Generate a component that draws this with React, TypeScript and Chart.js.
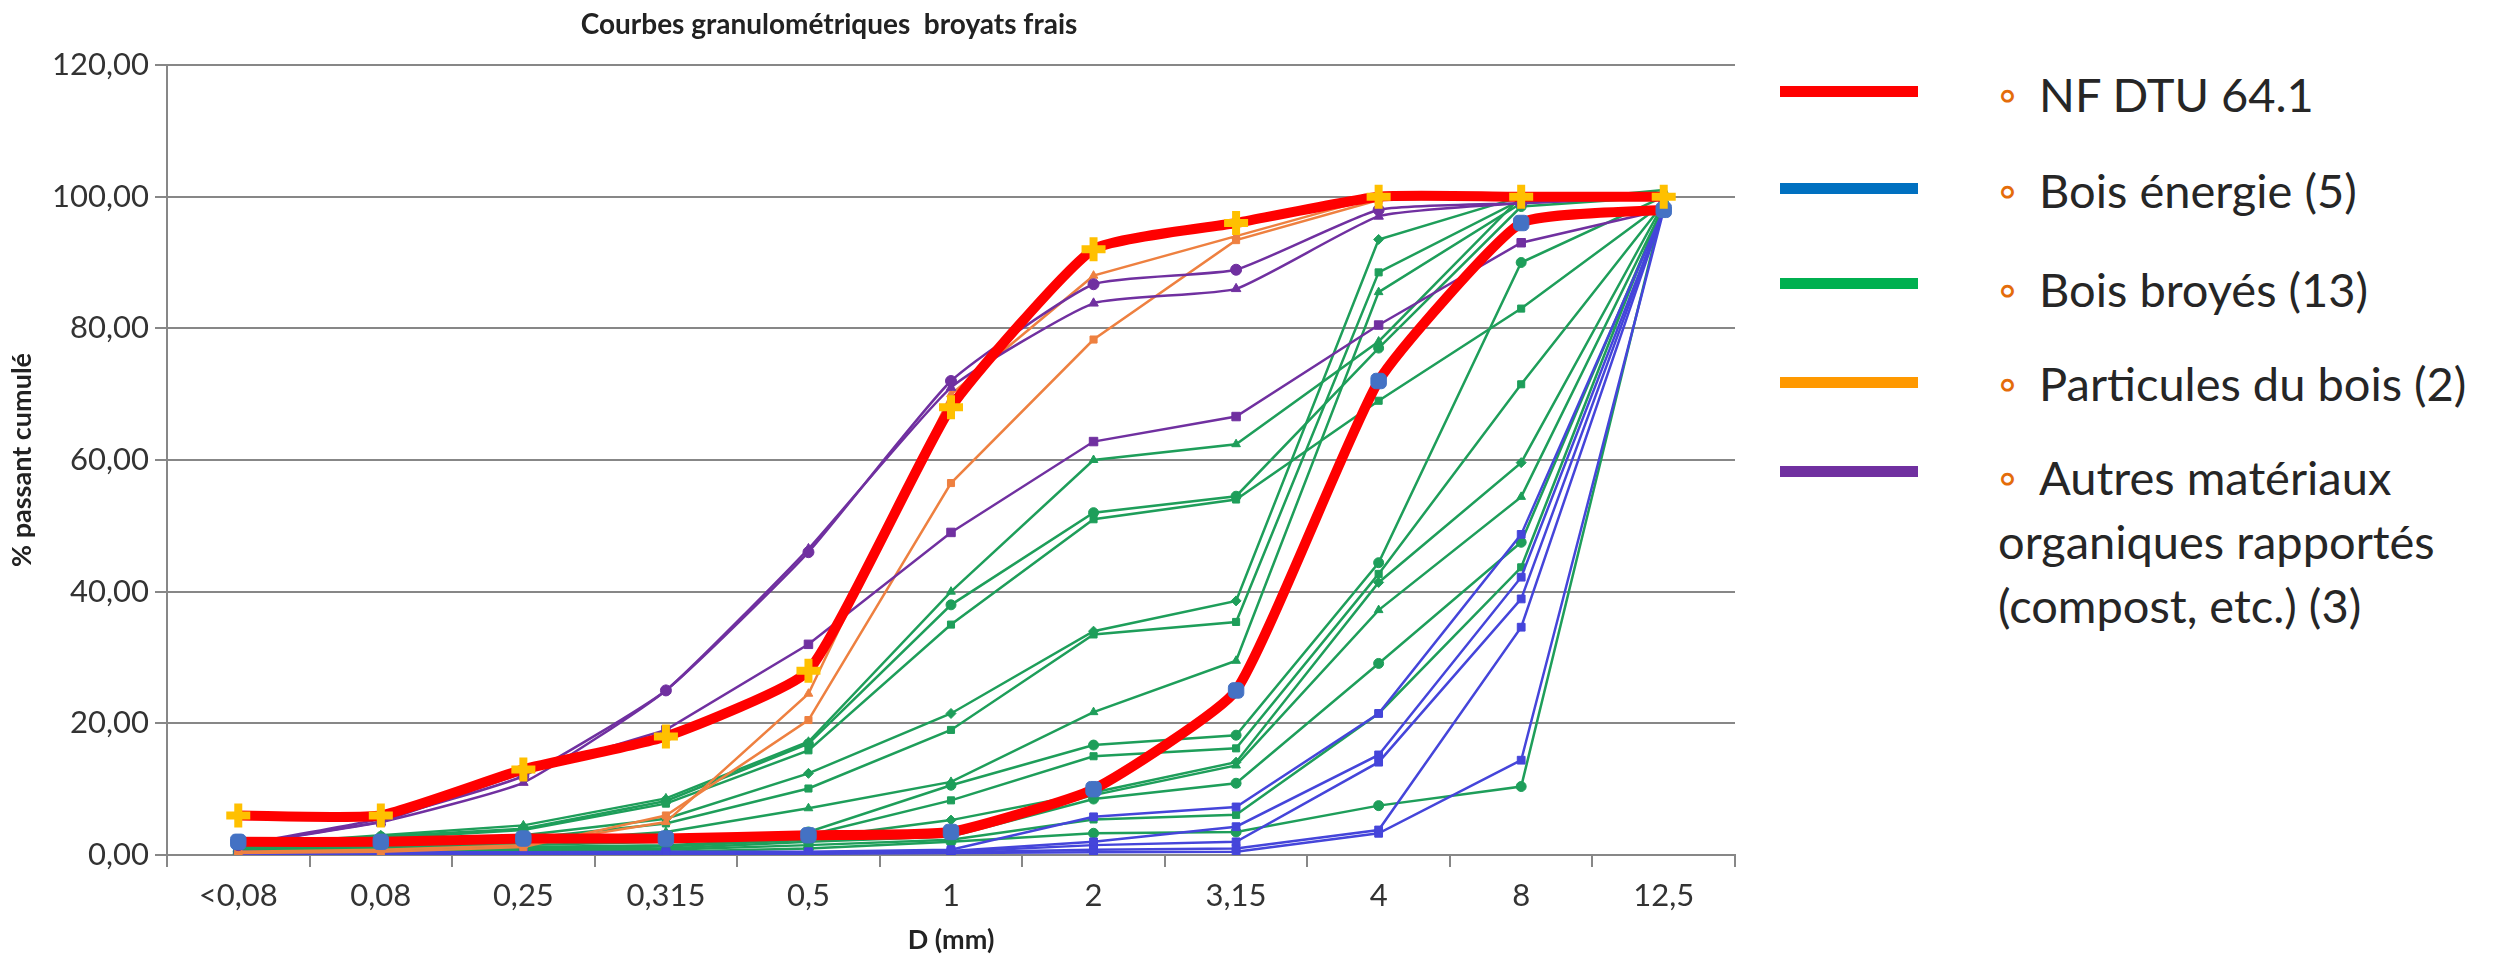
import React, { useEffect, useRef } from 'react';
import { Chart, registerables } from 'chart.js';

Chart.register(...registerables);

const categories = ['<0,08', '0,08', '0,25', '0,315', '0,5', '1', '2', '3,15', '4', '8', '12,5'];
const yTicks = [0, 20, 40, 60, 80, 100, 120];

// NF DTU 64.1 envelope
const nfUpper = [6, 6, 13, 18, 28, 68, 92, 96, 100, 100, 100];
const nfLower = [2, 2, 2.5, 2.5, 3, 3.5, 10, 25, 72, 96, 98];

// Bois énergie (5)
const energie1 = [0.5, 0.4, 0.4, 0.5, 0.5, 0.8, 5.8, 7.3, 21.5, 48.7, 98];
const energie2 = [0.4, 0.3, 0.3, 0.4, 0.4, 0.6, 2.0, 4.3, 15.2, 42.2, 98];
const energie3 = [0.3, 0.3, 0.3, 0.3, 0.3, 0.5, 1.5, 2.0, 14.1, 38.9, 98];
const energie4 = [0.2, 0.2, 0.2, 0.2, 0.3, 0.4, 0.8, 1.0, 3.8, 34.6, 98];
const energie5 = [0.1, 0.1, 0.1, 0.1, 0.2, 0.3, 0.4, 0.5, 3.3, 14.4, 98];

// Bois broyés (13)
const broyes1 = [1.5, 3, 4.5, 8.6, 17.2, 40, 60, 62.4, 78, 100, 100];
const broyes2 = [1.2, 2.8, 4, 8.2, 16.9, 38, 52, 54.5, 77, 98.5, 100];
const broyes3 = [1, 2.5, 3.8, 7.8, 15.9, 35, 51, 54, 69, 83, 99];
const broyes4 = [1, 2.2, 3, 5.5, 12.4, 21.5, 34, 38.6, 93.5, 100, 100];
const broyes5 = [0.8, 2, 2.5, 4.8, 10.1, 19, 33.5, 35.4, 88.5, 99.5, 100];
const broyes6 = [0.8, 1.8, 2, 3.5, 7.1, 11.1, 21.7, 29.5, 85.5, 99, 101];
const broyes7 = [0.6, 1.5, 1.8, 2.5, 3.5, 10.6, 16.7, 18.2, 44.4, 90, 100];
const broyes8 = [0.5, 1.2, 1.5, 2, 3, 8.3, 15, 16.2, 42.7, 71.5, 99];
const broyes9 = [0.5, 1, 1.2, 1.5, 2.5, 5.3, 9.5, 14.1, 41.4, 59.6, 99];
const broyes10 = [0.4, 0.8, 1, 1.3, 2.3, 3.3, 9.1, 13.6, 37.2, 54.4, 98.5];
const broyes11 = [0.3, 0.5, 0.8, 1, 2, 2.8, 8.5, 10.9, 29.1, 47.5, 98.5];
const broyes12 = [0.2, 0.5, 0.6, 0.8, 1.5, 2.3, 5.4, 6.1, 21.5, 43.7, 99];
const broyes13 = [0.1, 0.3, 0.4, 0.5, 1, 2, 3.3, 3.5, 7.5, 10.4, 99];

// Particules du bois (2)
const particules1 = [0.5, 0.8, 1.5, 5, 24.5, 70, 88, 94, 100, 100, 100];
const particules2 = [0.3, 0.5, 1.2, 6, 20.5, 56.5, 78.3, 93.4, 99.5, 100, 100];

// Autres matériaux organiques rapportés (3)
const autres1 = [1.5, 5.5, 12, 25, 46, 72, 86.7, 88.9, 98, 99, 100];
const autres2 = [1.5, 5, 11, 25, 46.5, 71, 83.8, 86, 97, 99, 100];
const autres3 = [1.5, 5, 12.5, 19, 32, 49, 62.8, 66.6, 80.5, 93, 98];

const legendItems = [
  { color: '#FF0000', lines: ['NF DTU 64.1'] },
  { color: '#0070C0', lines: ['Bois énergie (5)'] },
  { color: '#00B050', lines: ['Bois broyés (13)'] },
  { color: '#FF9900', lines: ['Particules du bois (2)'] },
  { color: '#7030A0', lines: ['Autres matériaux', 'organiques rapportés', '(compost, etc.) (3)'] },
];

const FONT = 'Lato, "Open Sans", sans-serif';

export default function App() {
  const ref = useRef<HTMLCanvasElement>(null);

  useEffect(() => {
    const canvas = ref.current;
    if (!canvas) return;
    const thin = (label: string, data: number[], color: string, style: any, radius = 5, tension = 0) => ({
      label,
      data,
      borderColor: color,
      backgroundColor: color,
      borderWidth: 2.5,
      pointStyle: style,
      pointRadius: radius,
      pointBackgroundColor: color,
      pointBorderColor: color,
      pointBorderWidth: 1,
      tension,
    });
    const green = '#1E9E5A';
    const blue = '#4545DA';
    const purple = '#7030A0';
    const orange = '#EE8040';
    const greenStyles = ['triangle', 'circle', 'rect', 'rectRot', 'rect', 'triangle', 'circle', 'rect', 'rectRot', 'triangle', 'circle', 'rect', 'circle'];
    const greens = [broyes1, broyes2, broyes3, broyes4, broyes5, broyes6, broyes7, broyes8, broyes9, broyes10, broyes11, broyes12, broyes13];
    const energies = [energie1, energie2, energie3, energie4, energie5];

    const datasets: any[] = [
      {
        label: 'NF DTU 64.1 (max)',
        data: nfUpper,
        borderColor: '#FF0000',
        backgroundColor: '#FF0000',
        borderWidth: 10,
        tension: 0.15,
        pointStyle: 'cross',
        pointRadius: 12,
        pointBorderColor: '#FFC000',
        pointBackgroundColor: '#FFC000',
        pointBorderWidth: 8,
      },
      {
        label: 'NF DTU 64.1 (min)',
        data: nfLower,
        borderColor: '#FF0000',
        backgroundColor: '#FF0000',
        borderWidth: 10,
        tension: 0.15,
        pointStyle: 'rectRounded',
        pointRadius: 9,
        pointBorderColor: '#4472C4',
        pointBackgroundColor: '#4472C4',
        pointBorderWidth: 1,
      },
      thin('Autres 1', autres1, purple, 'circle', 5.5, 0.15),
      thin('Autres 2', autres2, purple, 'triangle', 5.5, 0.15),
      thin('Autres 3', autres3, purple, 'rect', 6, 0),
      thin('Particules 1', particules1, orange, 'triangle', 5, 0),
      thin('Particules 2', particules2, orange, 'rect', 5, 0),
      ...energies.map((d, i) => thin('Energie ' + (i + 1), d, blue, 'rect', 5.5, 0)),
      ...greens.map((d, i) => thin('Broyés ' + (i + 1), d, green, greenStyles[i], 5, 0)),
    ];

    const chart = new Chart(canvas, {
      type: 'line',
      data: { labels: categories, datasets },
      options: {
        responsive: false,
        animation: false,
        devicePixelRatio: 1,
        layout: { padding: { top: 65, right: 25, left: 0, bottom: 0 } },
        plugins: {
          legend: { display: false },
          tooltip: { enabled: false },
          title: { display: false },
        },
        scales: {
          x: {
            type: 'category',
            offset: true,
            grid: {
              display: true,
              drawOnChartArea: false,
              drawTicks: true,
              tickLength: 12,
              color: '#878787',
              lineWidth: 2,
              offset: true,
            },
            border: { display: true, color: '#878787', width: 2 },
            ticks: {
              color: '#333333',
              font: { family: FONT, size: 31 },
              padding: 10,
              maxRotation: 0,
              autoSkip: false,
            },
            title: {
              display: true,
              text: 'D (mm)',
              color: '#222222',
              font: { family: FONT, size: 27, weight: 'bold' },
              padding: { top: 0, bottom: 10 },
            },
            afterFit: (s: any) => {
              s.height = 111;
            },
          },
          y: {
            min: 0,
            max: 120,
            afterBuildTicks: (s: any) => {
              s.ticks = yTicks.map((v) => ({ value: v }));
            },
            ticks: {
              color: '#333333',
              font: { family: FONT, size: 31 },
              padding: 6,
              callback: (v: any) => Number(v).toFixed(2).replace('.', ','),
            },
            grid: { color: '#878787', lineWidth: 2, tickLength: 12 },
            border: { display: true, color: '#878787', width: 2 },
            title: {
              display: true,
              text: '% passant cumulé',
              color: '#222222',
              font: { family: FONT, size: 27, weight: 'bold' },
              padding: { top: 6, bottom: 0 },
            },
            afterFit: (s: any) => {
              s.width = 167;
            },
          },
        },
      },
    });
    return () => chart.destroy();
  }, []);

  const lineTops = [86, 183, 278, 377, 466];
  const textTops = [62, 158, 257, 351, 445];

  return (
    <div style={{ position: 'absolute', left: 0, top: 0, width: 2496, height: 966, background: '#ffffff', overflow: 'hidden', fontFamily: FONT }}>
      <canvas ref={ref} width={1760} height={966} style={{ position: 'absolute', left: 0, top: 0, width: 1760, height: 966 }} />
      <div
        style={{
          position: 'absolute',
          left: 829,
          top: 6,
          transform: 'translateX(-50%)',
          fontSize: 28,
          fontWeight: 'bold',
          color: '#222222',
          whiteSpace: 'pre',
        }}
      >
        {'Courbes granulométriques  broyats frais'}
      </div>
      {legendItems.map((item, i) => (
        <div key={'l' + i} style={{ position: 'absolute', left: 1780, top: lineTops[i], width: 138, height: 11, background: item.color }} />
      ))}
      {legendItems.map((item, i) => (
        <div
          key={'t' + i}
          style={{ position: 'absolute', left: 1998, top: textTops[i], fontSize: 47, lineHeight: '64px', color: '#262626', whiteSpace: 'pre' }}
        >
          {item.lines.map((ln, j) => (
            <div key={j}>
              {j === 0 ? <span style={{ color: '#E46C0A', marginRight: 10 }}>{'◦ '}</span> : null}
              {ln}
            </div>
          ))}
        </div>
      ))}
    </div>
  );
}
